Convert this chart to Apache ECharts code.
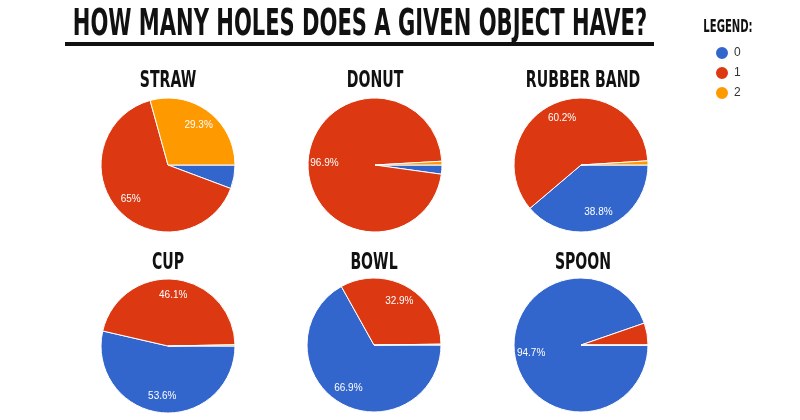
<!DOCTYPE html>
<html>
<head>
<meta charset="utf-8">
<script src="https://cdn.jsdelivr.net/npm/echarts@6/dist/echarts.min.js"></script>
<style>html,body{margin:0;padding:0;background:#fff}#c{width:800px;height:420px}</style>
</head>
<body>
<div id="c"></div>
<script>
var mainTitle = 'HOW MANY HOLES DOES A GIVEN OBJECT HAVE?';
var categories = ['STRAW', 'DONUT', 'RUBBER BAND', 'CUP', 'BOWL', 'SPOON'];
var holes = ['0', '1', '2'];
var zeroHoles = [5.7, 2.2, 38.8, 53.6, 66.9, 94.7];
var oneHole = [65, 96.9, 60.2, 46.1, 32.9, 5.3];
var twoHoles = [29.3, 0.9, 1.0, 0.3, 0.2, 0];

var colors = ['#3366CC', '#DC3912', '#FF9900'];
var centers = [[168, 165], [375, 165], [581, 165], [168, 346], [374, 345], [581, 345]];
var R = 67;
var condensed = '"Liberation Sans Narrow", "DejaVu Sans Condensed", "Arial Narrow", sans-serif';

var chart = echarts.init(document.getElementById('c'), null, {renderer: 'canvas'});
var series = [];
var graphics = [];

categories.forEach(function (cat, i) {
  var data = [
    {name: holes[0], value: zeroHoles[i]},
    {name: holes[1], value: oneHole[i]},
    {name: holes[2], value: twoHoles[i]}
  ];
  series.push({
    type: 'pie', center: centers[i], radius: [0, R], startAngle: 0, clockwise: true,
    silent: true, animation: false, minAngle: 0,
    itemStyle: {borderColor: '#fff', borderWidth: 1},
    label: {show: false}, labelLine: {show: false},
    data: data
  });
  // label carrier: transparent, larger radius so inside labels sit at ~0.71 R
  series.push({
    type: 'pie', center: centers[i], radius: [0, R * 1.42], startAngle: 0, clockwise: true,
    silent: true, animation: false, legendHoverLink: false,
    itemStyle: {color: 'rgba(0,0,0,0)', borderWidth: 0},
    label: {
      show: true, position: 'inside', color: '#fff', fontSize: 10,
      fontFamily: '"Liberation Sans", Arial, sans-serif',
      formatter: function (p) { return p.value >= 10 ? p.value + '%' : ''; }
    },
    labelLine: {show: false},
    data: data
  });
  graphics.push({
    type: 'text', x: centers[i][0] + (i % 3 === 2 ? 2 : 0), y: (i < 3 ? 81 : 263), scaleY: 1.3, scaleX: 0.87,
    style: {text: cat, fill: '#111', font: 'bold 18px ' + condensed, textAlign: 'center', textVerticalAlign: 'middle'}
  });
});

graphics.push({
  type: 'text', x: 360, y: 25, scaleY: 1.3, scaleX: 0.807,
  style: {text: mainTitle, fill: '#111', font: 'bold 29px ' + condensed, textAlign: 'center', textVerticalAlign: 'middle'}
});
graphics.push({
  type: 'rect', shape: {x: 65, y: 42, width: 589, height: 4}, style: {fill: '#111'}
});
graphics.push({
  type: 'text', x: 728, y: 27, scaleY: 1.3, scaleX: 0.83,
  style: {text: 'LEGEND:', fill: '#111', font: 'bold 13.5px ' + condensed, textAlign: 'center', textVerticalAlign: 'middle'}
});

chart.setOption({
  animation: false,
  color: colors,
  legend: {
    data: holes, orient: 'vertical', left: 714, top: 45, icon: 'circle', padding: 0,
    itemWidth: 14, itemHeight: 14, itemGap: 4, selectedMode: false,
    textStyle: {color: '#333', fontSize: 12, lineHeight: 12, fontFamily: '"Liberation Sans", Arial, sans-serif'}
  },
  graphic: graphics,
  series: series
});
</script>
</body>
</html>
